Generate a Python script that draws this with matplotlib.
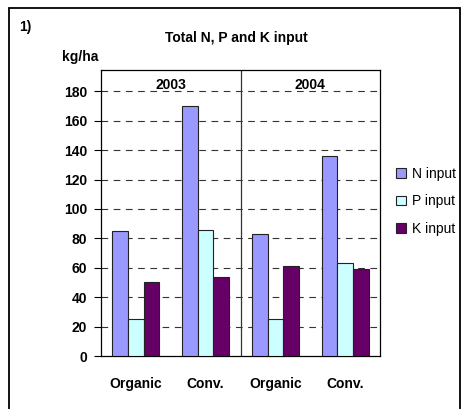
import matplotlib.pyplot as plt
import matplotlib.patches as mpatches
import numpy as np

plt.rcParams['font.family'] = ['Liberation Sans', 'DejaVu Sans']

categories = ['Organic', 'Conv.', 'Organic', 'Conv.']
years = ['2003', '2004']
n_input = [85, 170, 83, 136]
p_input = [25, 86, 25, 63]
k_input = [50, 54, 61, 59]
series = ['N input', 'P input', 'K input']
colors = ['#9999FF', '#CCFFFF', '#660066']

fig = plt.figure(figsize=(4.61, 4.09), dpi=100)
ax = fig.add_axes([101/461, 53/409, 279/461, 286/409])

x = np.arange(len(categories))
w = 0.225
for i, (vals, lab, c) in enumerate(zip([n_input, p_input, k_input], series, colors)):
    ax.bar(x + (i - 1) * w, vals, w, color=c, edgecolor='#222222', linewidth=0.8, label=lab, zorder=3)

fs = 10
ax.set_xlim(-0.5, 3.5)
ax.set_ylim(0, 194.5)
ax.set_yticks(range(0, 200, 20))
ax.set_yticklabels([str(v) for v in range(0, 200, 20)], fontweight='bold', fontsize=fs)
for v in range(20, 200, 20):
    ax.axhline(v, color='#333333', linestyle=(0, (6, 5)), linewidth=0.8, zorder=1)
ax.axvline(1.5, color='#333333', linewidth=0.9, zorder=2)
ax.tick_params(axis='y', length=5, width=0.8, pad=5)
ax.set_xticks(x)
ax.set_xticklabels(categories, fontweight='bold', fontsize=fs)
ax.tick_params(axis='x', length=0, pad=15)
for s in ax.spines.values():
    s.set_linewidth(0.9)

for j, yr in enumerate(years):
    ax.text(0.5 + 2 * j, 184.5, yr, ha='center', va='center', fontweight='bold', fontsize=fs, zorder=4)

fig.text(236/461, 1 - 38/409, 'Total N, P and K input', ha='center', va='center', fontweight='bold', fontsize=fs)
fig.text(19/461, 1 - 27/409, '1)', ha='left', va='center', fontweight='bold', fontsize=fs)
fig.text(62/461, 1 - 57/409, 'kg/ha', ha='left', va='center', fontweight='bold', fontsize=fs)

fig.legend(loc='upper left', bbox_to_anchor=(396/461, 1 - 167/409), frameon=False,
           fontsize=fs, handlelength=0.7, handleheight=0.7, handletextpad=0.45,
           labelspacing=0.97, borderpad=0, borderaxespad=0)

frame = mpatches.Rectangle((9/461, -0.05), 451/461, 1.05 - 8/409, transform=fig.transFigure,
                           fill=False, edgecolor='black', linewidth=1.3, clip_on=False)
fig.patches.append(frame)

fig.savefig('out.png', dpi=100)
